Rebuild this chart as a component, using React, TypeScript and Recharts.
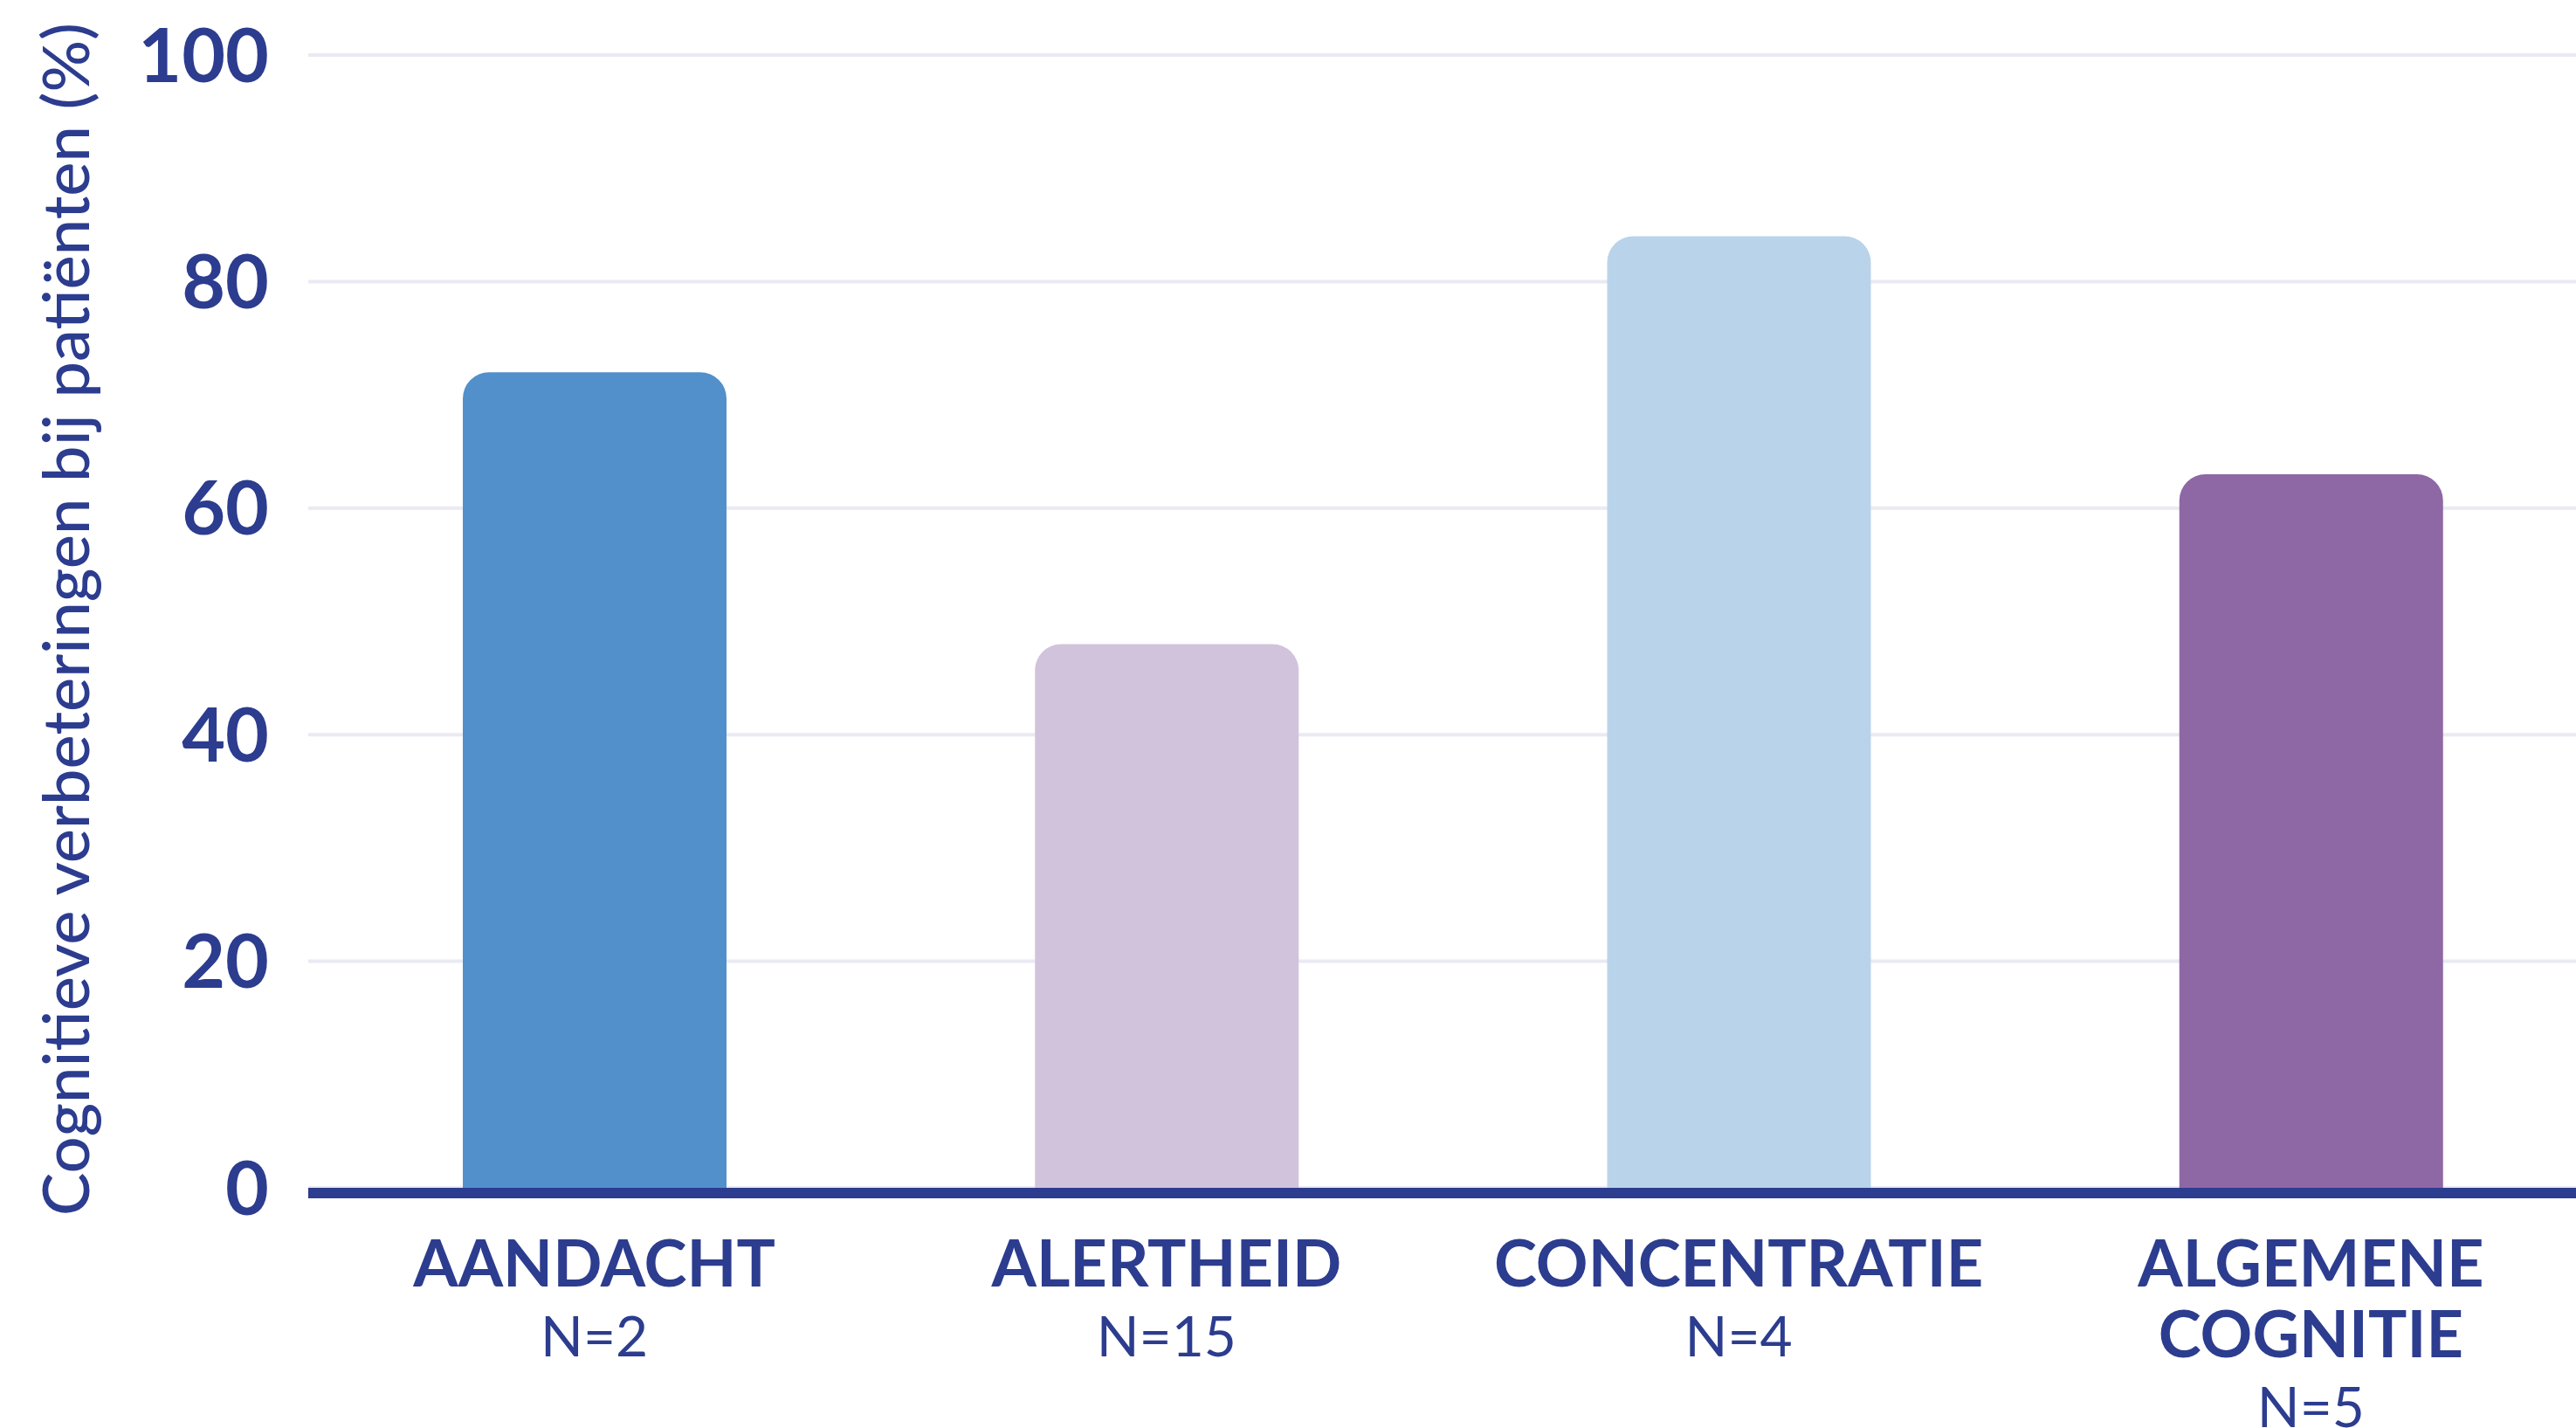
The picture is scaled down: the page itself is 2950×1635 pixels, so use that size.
import React from 'react';
import { BarChart, Bar, XAxis, YAxis, CartesianGrid, Cell, ReferenceLine } from 'recharts';

const categories = ['AANDACHT', 'ALERTHEID', 'CONCENTRATIE', 'ALGEMENE COGNITIE'];
const categoryLines = [['AANDACHT'], ['ALERTHEID'], ['CONCENTRATIE'], ['ALGEMENE', 'COGNITIE']];
const sampleSizes = ['N=2', 'N=15', 'N=4', 'N=5'];
const values = [72, 48, 84, 63];
const barColors = ['#5290CB', '#D2C3DC', '#B9D3EA', '#8E68A4'];
const yTicks = [0, 20, 40, 60, 80, 100];
const yLabel = 'Cognitieve verbeteringen bij patiënten (%)';

const NAVY = '#2C3C8F';
const FONT = 'Lato, "Noto Sans", sans-serif';

const data = categories.map((c, i) => ({ category: c, value: values[i] }));

const CategoryTick = (props: any) => {
  const { x, y, index } = props;
  const lines = categoryLines[index] || [];
  return (
    <g>
      {lines.map((l, i) => (
        <text key={i} x={x} y={y + 113 + i * 81} textAnchor="middle" fill={NAVY}
          style={{ fontFamily: FONT, fontSize: 74, fontWeight: 700 }}>{l}</text>
      ))}
      <text x={x} y={y + 112 + lines.length * 81} textAnchor="middle" fill={NAVY}
        style={{ fontFamily: FONT, fontSize: 64, fontWeight: 400 }}>{sampleSizes[index]}</text>
    </g>
  );
};

const AxisLineShape = (props: any) => {
  const { x1, y1, x2, y2 } = props;
  return <line x1={x1} x2={x2} y1={y1 + 6} y2={y2 + 6} stroke={NAVY} strokeWidth={12} />;
};

export default function App() {
  return (
    <div style={{ position: 'absolute', left: 0, top: 0, width: 2950, height: 1635, overflow: 'hidden', background: '#fff' }}>
      <BarChart width={2974} height={1635} data={data} margin={{ top: 63, right: 0, bottom: 0, left: 0 }}>
        <CartesianGrid vertical={false} stroke="#E9EAF3" strokeWidth={4} />
        <XAxis dataKey="category" height={275} axisLine={false} tickLine={false} tickSize={0} tickMargin={0}
          tick={<CategoryTick />} interval={0} />
        <YAxis domain={[0, 100]} ticks={yTicks} width={353} axisLine={false} tickLine={false} tickSize={0} tickMargin={45}
          tick={{ fill: NAVY, fontSize: 86, fontWeight: 700, fontFamily: FONT }} interval={0} />
        <Bar dataKey="value" barSize={302} radius={[30, 30, 0, 0]} isAnimationActive={false}>
          {data.map((d, i) => (
            <Cell key={d.category} fill={barColors[i]} />
          ))}
        </Bar>
        <ReferenceLine y={0} shape={AxisLineShape} />
        <text x={102} y={709} transform="rotate(-90 102 709)" textAnchor="middle" fill={NAVY}
          style={{ fontFamily: FONT, fontSize: 74, fontWeight: 500 }}>{yLabel}</text>
      </BarChart>
    </div>
  );
}
